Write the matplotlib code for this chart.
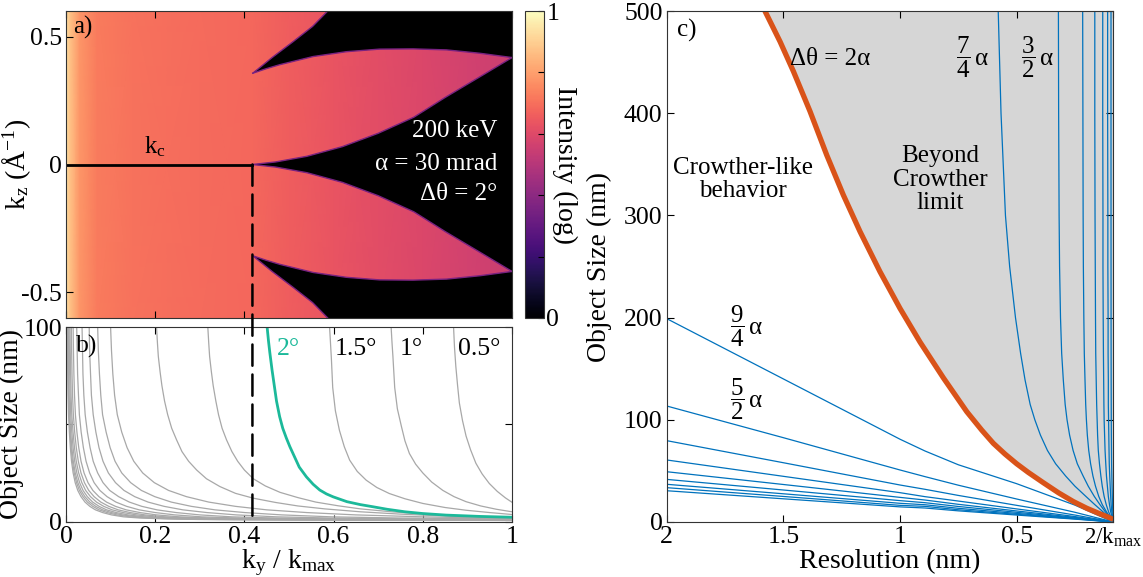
import numpy as np
import matplotlib.pyplot as plt
from matplotlib.patches import ConnectionPatch

plt.rcParams['font.family'] = ['Liberation Serif', 'DejaVu Serif']
plt.rcParams['mathtext.fontset'] = 'custom'
plt.rcParams['mathtext.rm'] = 'Liberation Serif'
plt.rcParams['mathtext.it'] = 'Liberation Serif:italic'
plt.rcParams['font.size'] = 18
plt.rcParams['axes.labelsize'] = 20
plt.rcParams['axes.edgecolor'] = '#333333'
plt.rcParams['axes.linewidth'] = 0.8

# ---------------- panel a) : intensity map ----------------
a_x = [0.0, 0.01, 0.03, 0.07, 0.15, 0.30, 0.42, 0.50, 0.60, 0.70, 0.80, 0.90, 1.0]
a_int = [0.93, 0.87, 0.78, 0.725, 0.705, 0.69, 0.68, 0.66, 0.635, 0.612, 0.59, 0.568, 0.55]

kc = 0.418

# black cut from top edge down to upper cusp
cut_x = [0.598, 0.553, 0.509, 0.462, 0.419]
cut_y = [0.62, 0.54, 0.48, 0.418, 0.357]
# upper edge of upper lobe (cusp -> tip)
lobe_top_x = [0.419, 0.45, 0.479, 0.554, 0.629, 0.703, 0.778, 0.853, 0.927, 1.0]
lobe_top_y = [0.357, 0.375, 0.39, 0.422, 0.441, 0.451, 0.452, 0.448, 0.435, 0.418]
# lower edge of upper lobe (centre cusp -> tip)
lobe_bot_x = [0.418, 0.47, 0.54, 0.62, 0.70, 0.78, 0.85, 0.93, 1.0]
lobe_bot_y = [0.0, 0.01, 0.032, 0.07, 0.122, 0.185, 0.262, 0.345, 0.418]

# ---------------- panel b) : object size vs ky/kmax ----------------
b_curves = {
    '0.5': ([0.869, 0.871, 0.874, 0.878, 0.882, 0.889, 0.897, 0.907, 0.919, 0.933, 0.949, 0.967, 0.985, 1.0],
            [100, 90, 80, 70, 61, 52, 44, 37, 30, 24.5, 19.6, 15.5, 12.2, 9.9]),
    '1': ([0.729, 0.731, 0.733, 0.737, 0.743, 0.752, 0.760, 0.770, 0.784, 0.800, 0.82, 0.845, 0.87, 0.897, 0.93, 0.965, 1.0],
          [100, 92, 85, 69, 58, 49, 41.5, 35, 29.5, 25, 20.3, 16, 12.8, 10.2, 8, 6.3, 5.0]),
    '1.5': ([0.591, 0.593, 0.595, 0.598, 0.604, 0.613, 0.624, 0.636, 0.653, 0.673, 0.697, 0.725, 0.76, 0.80, 0.85, 0.897, 0.95, 1.0],
            [100, 92, 84, 69, 57, 47, 38.5, 31.6, 25.8, 21.3, 17.5, 14.4, 11.7, 9.3, 7.2, 5.8, 4.6, 3.6]),
    '2.5': ([0.318, 0.320, 0.322, 0.326, 0.33, 0.336, 0.342, 0.35, 0.36, 0.372, 0.385, 0.40, 0.42, 0.447,
             0.48, 0.52, 0.56, 0.61, 0.66, 0.73, 0.8, 0.9, 1.0],
            [100, 92, 85, 77, 70, 62, 55, 48, 42, 36, 31, 26.5, 22, 18.3, 15, 12.3, 10, 8.1, 6.5, 5.0, 3.8, 2.7, 2.0]),
    '3': ([0.203, 0.205, 0.207, 0.211, 0.215, 0.221, 0.228, 0.237, 0.248, 0.26, 0.275, 0.293, 0.315, 0.345,
           0.38, 0.42, 0.47, 0.52, 0.58, 0.66, 0.75, 0.87, 1.0],
          [100, 92, 85, 77, 70, 62, 55, 48, 42, 36, 31, 26.5, 22, 18, 14.5, 12, 9.8, 8, 6.5, 5, 3.8, 2.6, 1.7]),
    '3.5': ([0.100, 0.102, 0.105, 0.109, 0.115, 0.125, 0.137, 0.152, 0.172, 0.198, 0.23, 0.27, 0.32, 0.38,
             0.45, 0.54, 0.65, 0.8, 1.0],
            [100, 88, 76, 65, 55, 46, 38, 31, 25, 20, 16, 12.8, 10, 7.8, 6, 4.6, 3.4, 2.4, 1.5]),
}
# denser bundle (large tilt steps): x read at the shared levels, then the value at x = 1
b_levels = [100, 88, 76, 65, 55, 46, 38, 31, 25, 20, 16, 12.8, 10, 7.8, 6, 4.6, 3.4, 2.4, 1.8, 1.3, 1.0]
b_bundle_x = [
    [0.071, 0.0725, 0.075, 0.078, 0.082, 0.090, 0.099, 0.110, 0.125, 0.145, 0.169, 0.199, 0.236, 0.281,
     0.334, 0.401, 0.484, 0.596, 0.746, 1.0],
    [0.052, 0.053, 0.055, 0.057, 0.061, 0.067, 0.074, 0.083, 0.095, 0.111, 0.130, 0.154, 0.184, 0.220,
     0.262, 0.316, 0.382, 0.472, 0.592, 0.802, 1.0],
    [0.036, 0.037, 0.038, 0.040, 0.043, 0.048, 0.054, 0.061, 0.071, 0.083, 0.098, 0.118, 0.142, 0.170,
     0.204, 0.247, 0.300, 0.372, 0.468, 0.636, 0.852, 1.0],
    [0.024, 0.025, 0.026, 0.028, 0.030, 0.034, 0.039, 0.045, 0.053, 0.063, 0.076, 0.092, 0.112, 0.136,
     0.164, 0.200, 0.244, 0.304, 0.384, 0.524, 0.704, 1.0],
    [0.016, 0.0167, 0.0177, 0.0191, 0.0211, 0.0245, 0.0286, 0.0337, 0.0405, 0.0493, 0.0602, 0.0738,
     0.0908, 0.111, 0.135, 0.166, 0.203, 0.254, 0.322, 0.441, 0.594, 1.0],
    [0.012, 0.0126, 0.0135, 0.0147, 0.0165, 0.0195, 0.0231, 0.0276, 0.0336, 0.0414, 0.051, 0.063,
     0.078, 0.096, 0.117, 0.144, 0.177, 0.222, 0.282, 0.387, 0.522, 1.0],
    [0.009, 0.0095, 0.0104, 0.0114, 0.013, 0.0158, 0.019, 0.023, 0.0284, 0.0355, 0.0441, 0.0549,
     0.0684, 0.0846, 0.1035, 0.128, 0.158, 0.198, 0.252, 0.347, 0.468, 1.0],
    [0.007, 0.0075, 0.0082, 0.0092, 0.0106, 0.013, 0.0159, 0.0195, 0.0243, 0.0305, 0.0382, 0.0478,
     0.0598, 0.0742, 0.091, 0.1126, 0.139, 0.175, 0.223, 0.307, 0.415, 1.0],
    [0.005, 0.0054, 0.0061, 0.007, 0.0083, 0.0105, 0.0131, 0.0164, 0.0208, 0.0266, 0.0336, 0.0424,
     0.0534, 0.0666, 0.082, 0.1018, 0.126, 0.159, 0.203, 0.28, 0.379, 1.0],
    [0.004, 0.0044, 0.005, 0.0058, 0.007, 0.009, 0.0114, 0.0144, 0.0184, 0.0236, 0.030, 0.038,
     0.048, 0.060, 0.074, 0.092, 0.114, 0.144, 0.184, 0.254, 0.344, 1.0],
    [0.003, 0.0034, 0.0039, 0.0046, 0.0057, 0.0075, 0.0097, 0.0124, 0.016, 0.0206, 0.0264, 0.0336,
     0.0426, 0.0534, 0.066, 0.0822, 0.102, 0.129, 0.165, 0.228, 0.309, 1.0],
]
b_bundle_end = [1.32, 1.05, 0.88, 0.78, 0.72, 0.68, 0.64, 0.6, 0.57, 0.54, 0.52]

b_teal_x = [0.451, 0.454, 0.457, 0.462, 0.467, 0.472, 0.479, 0.486, 0.494, 0.502, 0.509, 0.523, 0.539,
            0.554, 0.569, 0.584, 0.599, 0.63, 0.66, 0.688, 0.72, 0.76, 0.80, 0.852, 0.93, 1.0]
b_teal_y = [100, 93, 87, 78, 70, 62, 54, 48, 43, 38.5, 35, 28, 23, 19.2, 16.2, 14.2, 12.7, 10.2, 8.7,
            7.6, 6.3, 5.0, 4.1, 3.3, 2.6, 2.2]
b_labels = ['2°', '1.5°', '1°', '0.5°']
b_label_x = [0.472, 0.602, 0.748, 0.878]

# ---------------- panel c) : object size vs resolution ----------------
d_min = 0.0857  # 2/kmax in nm
c_orange_d = [1.579, 1.514, 1.457, 1.386, 1.314, 1.243, 1.171, 1.086, 1.0, 0.914, 0.814, 0.714,
              0.65, 0.6, 0.55, 0.5, 0.45, 0.386, 0.32, 0.257, 0.2, 0.143, 0.11, 0.0857]
c_orange_D = [500, 470, 441, 402, 359, 320, 284, 245, 209, 176, 141, 108,
              90, 77, 66.5, 57, 48.5, 38.5, 28.5, 20, 13.5, 8, 5, 2.5]

# dtheta > 2 alpha : lines from the left
c_low_d = [2.0, 1.5, 1.0, 0.893, 0.75, 0.5, 0.25, 0.0857]
c_low_D = [
    [199, 140, 81, 69.5, 56, 37.5, 16.5, 0],
    [113.5, 82.5, 50.9, 44.4, 36, 22.5, 9.5, 0],
    [79.6, 58, 36.2, 32, 26, 16.3, 6.8, 0],
    [60.7, 44.7, 28.7, 24.8, 20.5, 12.8, 5.3, 0],
    [49.2, 36.7, 24.1, 21.5, 17.3, 10.8, 4.5, 0],
    [41.7, 31.3, 20.9, 18.9, 15.2, 9.5, 3.9, 0],
    [36.9, 27.6, 18.3, 16.9, 13.4, 8.4, 3.5, 0],
    [33.6, 25, 16.3, 15.3, 12, 7.5, 3.1, 0],
    [30.6, 22.7, 14.8, 13.7, 10.9, 6.8, 2.8, 0],
]
# dtheta < 2 alpha : near-vertical curves on the right
c_high_D = [500, 400, 300, 250, 200, 165, 139, 115, 100, 85, 70, 57, 45, 35, 25, 17, 10, 5, 1]
c_high_d = [
    [0.579, 0.567, 0.548, 0.53, 0.505, 0.483, 0.464, 0.442, 0.422, 0.398, 0.368, 0.333, 0.29, 0.25,
     0.203, 0.165, 0.13, 0.108, 0.09],
    [0.321, 0.320, 0.318, 0.316, 0.312, 0.307, 0.30, 0.292, 0.284, 0.273, 0.258, 0.24, 0.215, 0.193,
     0.167, 0.143, 0.12, 0.103, 0.089],
    [0.217, 0.216, 0.215, 0.214, 0.212, 0.21, 0.207, 0.204, 0.201, 0.197, 0.191, 0.183, 0.173, 0.162,
     0.148, 0.133, 0.115, 0.101, 0.088],
    [0.165, 0.165, 0.164, 0.163, 0.162, 0.161, 0.159, 0.157, 0.155, 0.153, 0.150, 0.145, 0.139, 0.133,
     0.125, 0.116, 0.106, 0.096, 0.087],
    [0.131, 0.131, 0.130, 0.130, 0.129, 0.128, 0.127, 0.126, 0.125, 0.123, 0.121, 0.118, 0.115, 0.111,
     0.107, 0.102, 0.097, 0.091, 0.0865],
    [0.110, 0.110, 0.109, 0.109, 0.108, 0.108, 0.107, 0.107, 0.106, 0.105, 0.104, 0.103, 0.101, 0.099,
     0.097, 0.095, 0.092, 0.089, 0.086],
    [0.0955, 0.0955, 0.0954, 0.0953, 0.0952, 0.095, 0.0948, 0.0945, 0.0943, 0.094, 0.0935, 0.093,
     0.092, 0.091, 0.090, 0.089, 0.088, 0.087, 0.086],
]

blue = '#0072BD'
orange = '#D95319'
teal = '#1CB99A'
gray = '#a8a8a8'

W, H = 1143, 577
fig = plt.figure(figsize=(W / 100, H / 100), dpi=100)


def box(l, t, r, b):
    return [l / W, 1 - b / H, (r - l) / W, (b - t) / H]


ax_a = fig.add_axes(box(66, 11, 512, 318))
ax_cb = fig.add_axes(box(524.5, 11, 543.5, 318))
ax_b = fig.add_axes(box(66, 327.3, 512, 521.5))
ax_c = fig.add_axes(box(666.7, 11, 1113.3, 522))

for ax in (ax_a, ax_b, ax_c):
    ax.tick_params(direction='in', length=5, width=0.8, top=True, right=True,
                   pad=3, labelsize=18.5)

# ---- a)
X = np.vstack([a_x, a_x])
Y = np.vstack([np.full(len(a_x), -0.62), np.full(len(a_x), 0.62)])
C = np.vstack([a_int, a_int])
mesh = ax_a.pcolormesh(X, Y, C, shading='gouraud', cmap='magma', vmin=0, vmax=1)

top_x = np.concatenate([cut_x, lobe_top_x[1:], [1.02, 1.02]])
top_y = np.concatenate([cut_y, lobe_top_y[1:], [lobe_top_y[-1], 0.62]])
ax_a.fill(top_x, top_y, color='black', lw=0)
ax_a.fill(top_x, -top_y, color='black', lw=0)
mid_x = np.concatenate([lobe_bot_x, [1.02, 1.02], lobe_bot_x[::-1]])
mid_y = np.concatenate([lobe_bot_y, [lobe_bot_y[-1], -lobe_bot_y[-1]], -np.array(lobe_bot_y[::-1])])
ax_a.fill(mid_x, mid_y, color='black', lw=0)

edge = plt.get_cmap('magma')(0.35)
for s in (1, -1):
    ax_a.plot(cut_x, s * np.array(cut_y), color=edge, lw=1.0)
    ax_a.plot(lobe_top_x, s * np.array(lobe_top_y), color=edge, lw=1.0)
    ax_a.plot(lobe_bot_x, s * np.array(lobe_bot_y), color=edge, lw=1.0)

ax_a.plot([0, kc], [0, 0], color='black', lw=2)
ax_a.text(0.2, 0.07, r'k$_\mathrm{c}$', ha='center', va='center', fontsize=18)
ax_a.text(0.967, 0.13, '200 keV', color='white', ha='right', va='center')
ax_a.text(0.967, 0.0, 'α = 30 mrad', color='white', ha='right', va='center')
ax_a.text(0.967, -0.117, 'Δθ = 2°', color='white', ha='right', va='center')
ax_a.text(0.015, 0.985, 'a)', transform=ax_a.transAxes, ha='left', va='top')

ax_a.set_xlim(0, 1)
ax_a.set_ylim(-0.6, 0.6)
ax_a.set_xticks([0, 0.2, 0.4, 0.6, 0.8, 1.0])
ax_a.set_xticklabels([])
ax_a.set_yticks([-0.5, 0, 0.5])
ax_a.set_yticklabels(['-0.5', '0', '0.5'])
ax_a.set_ylabel(r'k$_\mathrm{z}$ (Å$^\mathrm{-1}$)')
ax_a.yaxis.set_label_coords(-0.075, 0.5)

cb = fig.colorbar(mesh, cax=ax_cb, ticks=[0, 0.2, 0.4, 0.6, 0.8, 1.0])
cb.ax.set_yticklabels(['0', '', '', '', '', '1'])
cb.ax.tick_params(direction='in', length=4, width=0.8, labelsize=18.5, pad=2)
cb.outline.set_linewidth(0.8)
cb.ax.text(2.1, 0.5, 'Intensity (log)', rotation=270, transform=cb.ax.transAxes,
           ha='center', va='center', fontsize=20)

# ---- b)
for xs, end in zip(b_bundle_x, b_bundle_end):
    ys = b_levels[:len(xs) - 1] + [end]
    ax_b.plot(xs, ys, color=gray, lw=0.9)
for key, (xs, ys) in b_curves.items():
    ax_b.plot(xs, ys, color=gray, lw=0.9)
ax_b.plot(b_teal_x, b_teal_y, color=teal, lw=2.0)
for lab, lx in zip(b_labels, b_label_x):
    ax_b.text(lx, 89, lab, color=teal if lab == '2°' else 'black', ha='left', va='center', fontsize=18.5)
ax_b.text(0.022, 0.96, 'b)', transform=ax_b.transAxes, ha='left', va='top', fontsize=18.5)

ax_b.set_xlim(0, 1)
ax_b.set_ylim(0, 100)
ax_b.set_xticks([0, 0.2, 0.4, 0.6, 0.8, 1.0])
ax_b.set_xticklabels(['0', '0.2', '0.4', '0.6', '0.8', '1'])
ax_b.set_yticks([0, 50, 100])
ax_b.set_yticklabels(['0', '', '100'])
ax_b.set_xlabel(r'k$_\mathrm{y}$ / k$_\mathrm{max}$', labelpad=0)
ax_b.set_ylabel('Object Size (nm)')
ax_b.yaxis.set_label_coords(-0.095, 0.5)

con = ConnectionPatch(xyA=(kc, 0), coordsA='data', axesA=ax_a,
                      xyB=(kc, 0), coordsB='data', axesB=ax_b,
                      color='black', lw=1.8, linestyle=(0, (8.5, 3.5)))
fig.add_artist(con)

# ---- c)
fill_d = np.concatenate([c_orange_d, [d_min - 0.01, d_min - 0.01, c_orange_d[0]]])
fill_D = np.concatenate([c_orange_D, [-5, 520, 520]])
ax_c.fill(fill_d, fill_D, color='#d6d6d6', lw=0)
for Ds in c_low_D:
    ax_c.plot(c_low_d, Ds, color=blue, lw=0.9)
for ds in c_high_d:
    ax_c.plot(ds, c_high_D, color=blue, lw=0.9)
ax_c.plot(c_orange_d, c_orange_D, color=orange, lw=3.8, solid_capstyle='butt')

ax_c.text(1.47, 453, 'Δθ = 2α', ha='left', va='center')
ax_c.text(1.674, 335, 'Crowther-like\nbehavior', ha='center', va='center', linespacing=1.1)
ax_c.text(0.829, 335, 'Beyond\nCrowther\nlimit', ha='center', va='center', linespacing=1.1)
ax_c.text(0.76, 455, r'$\dfrac{7}{4}\,$α', ha='left', va='center')
ax_c.text(0.481, 455, r'$\dfrac{3}{2}\,$α', ha='left', va='center')
ax_c.text(1.73, 192, r'$\dfrac{9}{4}\,$α', ha='left', va='center')
ax_c.text(1.73, 120, r'$\dfrac{5}{2}\,$α', ha='left', va='center')
ax_c.text(0.023, 0.985, 'c)', transform=ax_c.transAxes, ha='left', va='top')

ax_c.set_xlim(2.0, d_min)
ax_c.set_ylim(0, 500)
ax_c.set_xticks([2, 1.5, 1, 0.5, d_min])
ax_c.set_xticklabels(['2', '1.5', '1', '0.5', r'2/k$_\mathrm{max}$'])
ax_c.get_xticklabels()[-1].set_fontsize(16.5)
ax_c.set_yticks([0, 100, 200, 300, 400, 500])
ax_c.set_xlabel('Resolution (nm)', labelpad=0)
ax_c.set_ylabel('Object Size (nm)')
ax_c.yaxis.set_label_coords(-0.122, 0.5)

fig.savefig('out.png', dpi=100)
